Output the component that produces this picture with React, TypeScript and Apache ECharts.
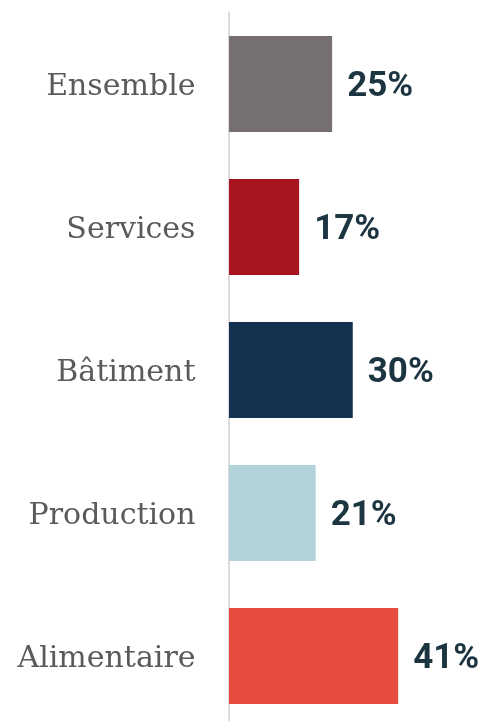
import React, { useEffect, useRef } from "react";
import * as echarts from "echarts";

const categories = ["Ensemble", "Services", "Bâtiment", "Production", "Alimentaire"];
const values = [25, 17, 30, 21, 41];
const colors = ["#767170", "#a8141f", "#12324f", "#b1d3d9", "#e84b3f"];

export default function App() {
  const ref = useRef<HTMLDivElement>(null);
  useEffect(() => {
    if (!ref.current) return;
    const chart = echarts.init(ref.current, undefined, { renderer: "svg" });
    chart.setOption({
      animation: false,
      grid: { left: 229, top: 12.5, width: 206.25, height: 715 },
      xAxis: {
        type: "value",
        min: 0,
        max: 50,
        show: false,
      },
      yAxis: {
        type: "category",
        data: categories,
        inverse: true,
        offset: 1.5,
        axisLine: { show: true, lineStyle: { color: "#dcdcdc", width: 2 } },
        axisTick: { show: false },
        axisLabel: {
          margin: 32,
          fontFamily: "DejaVu Serif",
          fontSize: 30,
          color: "#5a5a5a",
        },
      },
      series: [
        {
          type: "bar",
          barCategoryGap: "33%",
          data: values.map((v, i) => ({ value: v, itemStyle: { color: colors[i] } })),
          label: {
            show: true,
            position: "right",
            distance: 15,
            formatter: "{c}%",
            fontFamily: "Roboto",
            fontWeight: "bold",
            fontSize: 35,
            color: "#1c3540",
          },
        },
      ],
    });
    return () => chart.dispose();
  }, []);
  return (
    <div style={{ position: "fixed", left: 0, top: 0, width: 482, height: 721, overflow: "hidden" }}>
      <div ref={ref} style={{ width: 482, height: 740 }} />
    </div>
  );
}
